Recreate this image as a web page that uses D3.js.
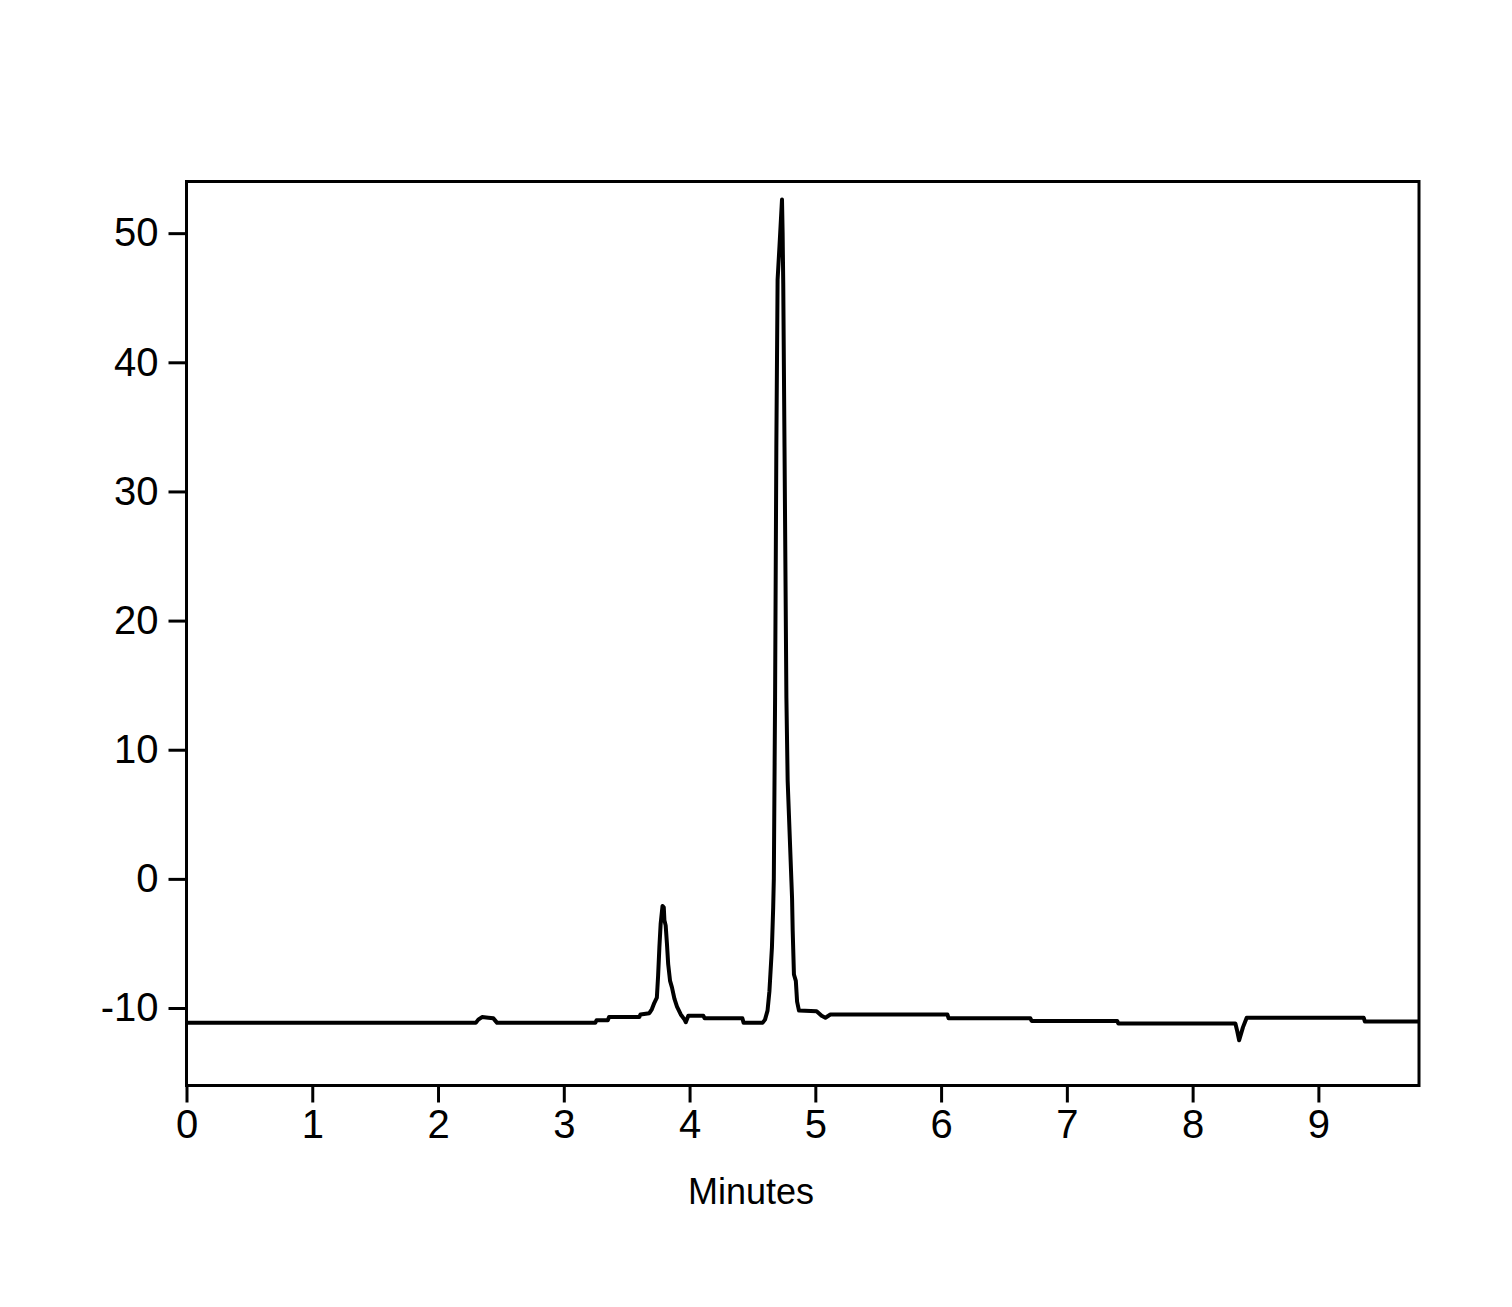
<!DOCTYPE html>
<html>
<head>
<meta charset="utf-8">
<script src="https://cdn.jsdelivr.net/npm/d3@7"></script>
<style>
  html, body { margin: 0; padding: 0; background: #fff; }
  svg { display: block; }
</style>
</head>
<body>
<svg id="chart" width="1512" height="1307"></svg>
<script>
// Data
const timeMin = [0, 2.30, 2.32, 2.35, 2.40, 2.44, 2.47, 3.25, 3.26, 3.35, 3.36, 3.60, 3.61, 3.68, 3.70, 3.72, 3.74, 3.75, 3.76, 3.77, 3.785, 3.795, 3.80, 3.81, 3.82, 3.83, 3.845, 3.86, 3.88, 3.90, 3.93, 3.96, 3.97, 3.99, 4.11, 4.12, 4.42, 4.43, 4.58, 4.60, 4.62, 4.635, 4.655, 4.665, 4.67, 4.68, 4.69, 4.70, 4.715, 4.735, 4.74, 4.745, 4.755, 4.77, 4.78, 4.81, 4.815, 4.82, 4.83, 4.845, 4.855, 4.87, 5.01, 5.05, 5.08, 5.12, 6.05, 6.06, 6.71, 6.72, 7.40, 7.41, 8.34, 8.355, 8.37, 8.40, 8.43, 9.36, 9.37, 9.80];
const signal = [-11.15, -11.15, -10.9, -10.7, -10.75, -10.8, -11.15, -11.15, -10.95, -10.95, -10.7, -10.7, -10.5, -10.4, -10.1, -9.6, -9.2, -7.5, -5.3, -3.5, -2.1, -2.2, -3.2, -3.6, -5.0, -6.6, -7.9, -8.4, -9.3, -9.9, -10.5, -10.9, -11.1, -10.6, -10.6, -10.8, -10.8, -11.15, -11.15, -10.9, -10.2, -8.7, -5.3, -2.2, 0, 14, 33.4, 46.4, 49.0, 52.6, 50, 46, 33.4, 14, 7.6, -0.2, -1.5, -4, -7.4, -7.9, -9.5, -10.2, -10.25, -10.6, -10.75, -10.5, -10.5, -10.8, -10.8, -11.0, -11.0, -11.2, -11.2, -11.8, -12.5, -11.5, -10.75, -10.75, -11.05, -11.05];
const xTicks = [0, 1, 2, 3, 4, 5, 6, 7, 8, 9];
const yTicks = [-10, 0, 10, 20, 30, 40, 50];
const xTitle = "Minutes";

const svg = d3.select("#chart");
const plotL = 186.5, plotR = 1419, plotT = 181.5, plotB = 1085.5;

const x = d3.scaleLinear().domain([0, 9.8]).range([plotL, plotR]);
const y = d3.scaleLinear().domain([-16, 54]).range([plotB, plotT]);

const font = "'Liberation Sans', Arial, sans-serif";

// trace
const pts = timeMin.map((t, i) => [t, signal[i]]);
svg.append("path")
  .datum(pts)
  .attr("fill", "none")
  .attr("stroke", "#000")
  .attr("stroke-width", 4)
  .attr("stroke-linejoin", "round")
  .attr("d", d3.line().x(d => x(d[0])).y(d => y(d[1])));

// frame
svg.append("rect")
  .attr("x", plotL).attr("y", plotT)
  .attr("width", plotR - plotL).attr("height", plotB - plotT)
  .attr("fill", "none").attr("stroke", "#000").attr("stroke-width", 3);

// axes
const xAxis = d3.axisBottom(x).tickValues(xTicks).tickSize(17).tickPadding(7).tickFormat(d => String(d));
const yAxis = d3.axisLeft(y).tickValues(yTicks).tickSize(18).tickPadding(10).tickFormat(d => String(d));

const gx = svg.append("g").attr("transform", `translate(0,${plotB})`).call(xAxis);
const gy = svg.append("g").attr("transform", `translate(${plotL},0)`).call(yAxis);

[gx, gy].forEach(g => {
  g.select(".domain").remove();
  g.selectAll(".tick line").attr("stroke", "#000").attr("stroke-width", 3);
  g.selectAll(".tick text").attr("fill", "#000").style("font-family", font).style("font-size", "40px");
});

svg.append("text")
  .attr("x", 751).attr("y", 1204)
  .attr("text-anchor", "middle")
  .style("font-family", font).style("font-size", "36px")
  .attr("fill", "#000")
  .text(xTitle);
</script>
</body>
</html>
